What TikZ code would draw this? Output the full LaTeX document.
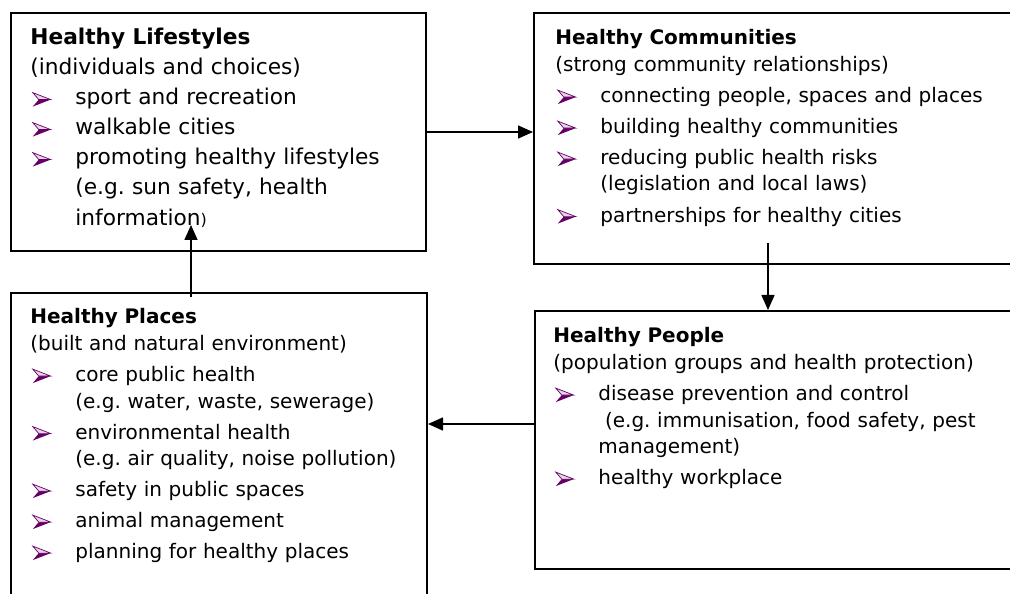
\documentclass[tikz,border=0pt]{standalone}
\usepackage{fontspec}
\setmainfont{DejaVu Sans}
\usepackage{tikz}
\usetikzlibrary{positioning,arrows.meta}

\definecolor{bulpurple}{RGB}{102,0,102}
\definecolor{bullight}{RGB}{190,150,190}
\newcommand{\bul}{\makebox[22.5bp][l]{\hspace{1bp}\tikz[baseline=0pt,x=1bp,y=1bp]{%
  \fill[bulpurple] (0,-0.8) -- (9,2.7) -- (3,2.7) -- cycle;
  \filldraw[draw=bulpurple,fill=bullight!40,line width=0.35bp] (0,6.2) -- (9,2.7) -- (3,2.7) -- cycle;}}}
\newcommand{\cont}{\hspace*{22.5bp}}
\frenchspacing

\begin{document}
\begin{tikzpicture}[x=0.5bp,y=-0.5bp,
    box/.style={draw,line width=1bp,rectangle,inner sep=0pt,anchor=north west},
    txt/.style={anchor=base west,inner sep=0pt,text width=240bp,align=left,
      font=\fontsize{10bp}{13.25bp}\selectfont},
    arr/.style={line width=0.8bp,-{Triangle[length=7.5bp,width=6.5bp]}}]
  \useasboundingbox (0,0) rectangle (1010,594);
  \clip (0,0) rectangle (1010,594);
  % the four boxes
  \node (life) [box,minimum width=207.5bp,minimum height=119bp] at (10,12) {};
  \node (comm) [box,minimum width=243.5bp,minimum height=125.5bp] at (533,12) {};
  \node (plac) [box,minimum width=208bp,minimum height=156bp] at (10,292) {};
  \node (peop) [box,minimum width=243bp,minimum height=129bp] at (534,310) {};
  % texts
  \node (lifetxt) [txt,font=\fontsize{10.85bp}{15bp}\selectfont] at (30,45) {%
    \textbf{Healthy Lifestyles}\\
    (individuals and choices)\\
    \bul sport and recreation\\
    \bul walkable cities\\
    \bul promoting healthy lifestyles\\
    \cont(e.g. sun safety, health\\
    \cont information{\fontsize{8bp}{8bp}\selectfont)}};
  \node (commtxt) [txt] at (555,45) {%
    \textbf{Healthy Communities}\\
    (strong community relationships)\\[2.25bp]
    \bul connecting people, spaces and places\\[2.25bp]
    \bul building healthy communities\\[2.25bp]
    \bul reducing public health risks\\
    \cont(legislation and local laws)\\[2.25bp]
    \bul partnerships for healthy cities};
  \node (peoptxt) [txt] at (553,343) {%
    \textbf{Healthy People}\\
    (population groups and health protection)\\[2.25bp]
    \bul disease prevention and control\\
    \cont\ (e.g. immunisation, food safety, pest\\
    \cont management)\\[2.25bp]
    \bul healthy workplace};
  \node (plactxt) [txt] at (30,324) {%
    \textbf{Healthy Places}\\
    (built and natural environment)\\[2.25bp]
    \bul core public health\\
    \cont(e.g. water, waste, sewerage)\\[2.25bp]
    \bul environmental health\\
    \cont(e.g. air quality, noise pollution)\\[2.25bp]
    \bul safety in public spaces\\[2.25bp]
    \bul animal management\\[2.25bp]
    \bul planning for healthy places};
  % arrows
  \draw[arr] (life.east) -- (life.east -| comm.west);
  \coordinate (c1) at (768,243);
  \draw[arr] (c1) -- (c1 |- peop.north);
  \coordinate (p1) at ([yshift=8bp]peop.west);
  \draw[arr] (p1) -- (p1 -| plac.east);
  \coordinate (u1) at (191,297);
  \coordinate (u2) at (191,225);
  \draw[arr] (u1) -- (u2);
\end{tikzpicture}
\end{document}
